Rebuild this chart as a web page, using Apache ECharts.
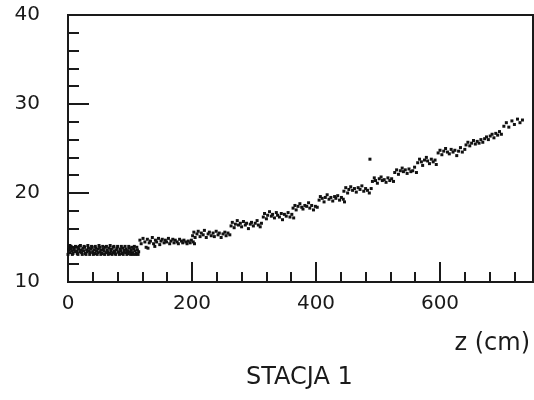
<!DOCTYPE html>
<html>
<head>
<meta charset="utf-8">
<script src="https://cdn.jsdelivr.net/npm/echarts@6/dist/echarts.min.js"></script>
<style>
html,body{margin:0;padding:0;background:#fff;}
#chart{width:534px;height:400px;}
</style>
</head>
<body>
<div id="chart"></div>
<script>
// Axis ticks
const yTicks = [10, 20, 30, 40];
const xTicks = [0, 200, 400, 600];
const xMinorStep = 40;
const xLabel = 'z (cm)';
const caption = 'STACJA 1';

// Measured points [z (cm), value], grouped by the visible step segments
const band1 = [[1,13.6],[2,13.9],[3,13.3],[4,13.7],[5,14.0],[6,13.5],[8,13.2],[9,13.8],[10,13.6],[11,13.4],[13,13.9],[14,13.5],[15,13.2],[17,13.7],[18,14.0],[19,13.4],[21,13.6],[22,13.3],[24,13.8],[25,13.5],[27,13.9],[28,13.2],[30,13.6],[31,13.4],[33,13.8],[34,13.5],[36,13.3],[37,13.7],[39,13.9],[40,13.4],[42,13.6],[43,13.2],[45,13.8],[46,13.5],[48,13.3],[49,13.7],[51,13.9],[52,13.4],[54,13.6],[55,13.2],[57,13.7],[58,13.5],[60,13.9],[61,13.3],[63,13.6],[64,13.4],[66,13.8],[67,13.2],[69,13.5],[70,13.7],[72,13.3],[73,13.9],[75,13.5],[76,13.2],[78,13.6],[79,13.8],[81,13.4],[82,13.3],[84,13.7],[85,13.5],[87,13.2],[88,13.8],[90,13.4],[91,13.6],[93,13.3],[94,13.7],[96,13.5],[97,13.2],[99,13.8],[100,13.4],[102,13.6],[104,13.3],[106,13.7],[108,13.5],[110,13.2],[112,13.6],[114,13.4],
  [0,13.1],[3,14.1],[7,13.1],[12,14.0],[16,13.1],[20,14.1],[23,13.1],[26,14.0],[29,13.1],[32,14.1],[35,13.1],[38,14.0],[41,13.1],[44,14.0],[47,13.1],[50,14.1],[53,13.1],[56,14.0],[59,13.1],[62,14.0],[65,13.1],[68,14.1],[71,13.1],[74,14.0],[77,13.1],[80,14.0],[83,13.1],[86,14.0],[89,13.1],[92,14.0],[95,13.1],[98,14.0],[101,13.1],[103,13.9],[105,13.1],[107,14.0],[109,13.1],[111,13.9],[113,13.1]];
const band2 = [[116,14.7],[118,14.3],[121,14.9],[124,14.5],[126,13.9],[128,14.8],[129,13.8],[131,14.4],[133,14.6],[136,15.0],[138,14.3],[140,14.0],[141,14.7],[143,14.5],[146,14.9],[148,14.2],[150,14.6],[152,14.8],[155,14.4],[157,14.7],[159,14.5],[162,14.9],[164,14.3],[166,14.6],[169,14.8],[171,14.4],[173,14.7],[176,14.5],[178,14.3],[180,14.8],[183,14.6],[185,14.4],[187,14.7],[190,14.5],[192,14.3],[194,14.6],[197,14.4],[199,14.7],[202,14.5],[204,14.3]];
const band3 = [[201,15.2],[203,15.6],[205,15.0],[208,15.4],[210,15.7],[213,15.1],[215,15.5],[218,15.3],[220,15.8],[223,15.0],[226,15.4],[228,15.6],[231,15.2],[234,15.5],[236,15.1],[239,15.7],[242,15.3],[244,15.5],[247,15.0],[250,15.4],[253,15.6],[255,15.2],[258,15.5],[261,15.3]];
const band4 = [[263,16.3],[265,16.7],[268,16.1],[270,16.5],[273,16.9],[275,16.4],[278,16.6],[280,16.2],[283,16.8],[286,16.4],[288,16.6],[291,16.0],[294,16.5],[296,16.7],[299,16.3],[302,16.6],[305,16.9],[307,16.4],[310,16.2],[312,16.6]];
const band5 = [[315,17.3],[317,17.7],[320,17.1],[322,17.5],[325,17.9],[328,17.4],[330,17.6],[333,17.2],[336,17.8],[338,17.5],[341,17.3],[344,17.7],[346,17.0],[349,17.6],[352,17.4],[355,17.8],[358,17.3],[361,17.6],[364,17.2]];
const band6 = [[363,18.3],[366,18.6],[368,18.1],[371,18.5],[374,18.8],[377,18.4],[379,18.2],[382,18.6],[385,18.5],[388,18.9],[390,18.3],[393,18.6],[396,18.1],[399,18.5],[402,18.4]];
const band7 = [[405,19.2],[407,19.6],[410,19.4],[413,19.0],[415,19.5],[418,19.8],[421,19.3],[424,19.5],[427,19.1],[430,19.6],[432,19.4],[435,19.7],[438,19.2],[441,19.5],[444,19.3],[446,19.0]];
const band8 = [[445,20.2],[448,20.6],[451,20.0],[453,20.4],[456,20.7],[459,20.3],[462,20.5],[465,20.1],[468,20.6],[471,20.4],[474,20.8],[477,20.2],[480,20.5],[483,20.3],[486,20.0],[487,23.8],[489,20.5]];
const band9 = [[491,21.3],[494,21.7],[496,21.4],[499,21.1],[502,21.6],[505,21.8],[507,21.4],[510,21.5],[513,21.2],[516,21.7],[519,21.4],[522,21.6],[525,21.3]];
const band10 = [[527,22.3],[530,22.6],[533,22.1],[536,22.5],[539,22.8],[541,22.4],[544,22.6],[547,22.2],[550,22.7],[553,22.4],[556,22.5],[559,22.9],[562,22.3]];
const band11 = [[564,23.4],[567,23.8],[570,23.5],[572,23.1],[575,23.7],[578,24.0],[580,23.6],[583,23.3],[586,23.8],[589,23.5],[592,23.7],[594,23.2]];
const band12 = [[597,24.5],[600,24.8],[603,24.3],[606,24.7],[609,25.0],[612,24.6],[615,24.4],[618,24.9],[621,24.6],[624,24.8],[627,24.2],[630,24.7],[633,25.1],[636,24.6],[640,24.9]];
const band13 = [[642,25.4],[645,25.7],[648,25.3],[651,25.6],[654,25.9],[657,25.5],[660,25.8],[663,25.6],[666,26.0],[669,25.7],[672,26.1],[675,26.3],[678,26.0],[681,26.4],[684,26.6],[687,26.2],[690,26.7],[693,26.5],[696,26.9],[699,26.6]];
const band14 = [[703,27.5],[707,27.9],[711,27.4],[716,28.1],[720,27.7],[725,28.3],[729,27.9],[733,28.2]];

const allPoints = [].concat(band1, band2, band3, band4, band5, band6, band7, band8, band9, band10, band11, band12, band13, band14);

const ink = '#1a1a1a';
const font = 'DejaVu Sans';
const xMin = xTicks[0], xMax = 750;
const yMin = yTicks[0], yMax = yTicks[yTicks.length - 1];

const chart = echarts.init(document.getElementById('chart'), null, {renderer: 'canvas'});
chart.setOption({
  backgroundColor: '#fff',
  animation: false,
  grid: {left: 68, right: 1, top: 15, bottom: 118, show: true, borderColor: ink, borderWidth: 2, backgroundColor: 'transparent'},
  xAxis: [{
    type: 'value', min: xMin, max: xMax, interval: xTicks[1] - xTicks[0],
    axisLine: {show: true, lineStyle: {color: ink, width: 2}},
    axisTick: {show: true, inside: true, length: 20, lineStyle: {color: ink, width: 2}},
    axisLabel: {show: true, fontSize: 20, fontFamily: font, color: ink, margin: 12, showMaxLabel: false,
      formatter: v => xTicks.includes(v) ? String(v) : ''},
    splitLine: {show: false}
  }, {
    type: 'value', min: xMin, max: xMax, interval: xMinorStep, position: 'bottom',
    axisLine: {show: false},
    axisTick: {show: true, inside: true, length: 10, lineStyle: {color: ink, width: 2}},
    axisLabel: {show: false},
    splitLine: {show: false}
  }],
  yAxis: {
    type: 'value', min: yMin, max: yMax, interval: 10,
    axisLine: {show: true, lineStyle: {color: ink, width: 2}},
    axisTick: {show: true, inside: true, length: 21, lineStyle: {color: ink, width: 2}},
    minorTick: {show: true, splitNumber: 5, length: 11, lineStyle: {color: ink, width: 2}},
    axisLabel: {show: true, fontSize: 20, fontFamily: font, color: ink, margin: 28},
    splitLine: {show: false}
  },
  series: [{
    type: 'scatter', xAxisIndex: 0, yAxisIndex: 0,
    data: allPoints, symbol: 'rect', symbolSize: 3,
    itemStyle: {color: '#111', opacity: 1}
  }],
  graphic: [
    {type: 'text', right: 4, top: 332, style: {text: xLabel, font: '24px "DejaVu Sans"', fill: ink}},
    {type: 'text', left: 246, top: 366, style: {text: caption, font: '24px "DejaVu Sans"', fill: ink}}
  ]
});
</script>
</body>
</html>
